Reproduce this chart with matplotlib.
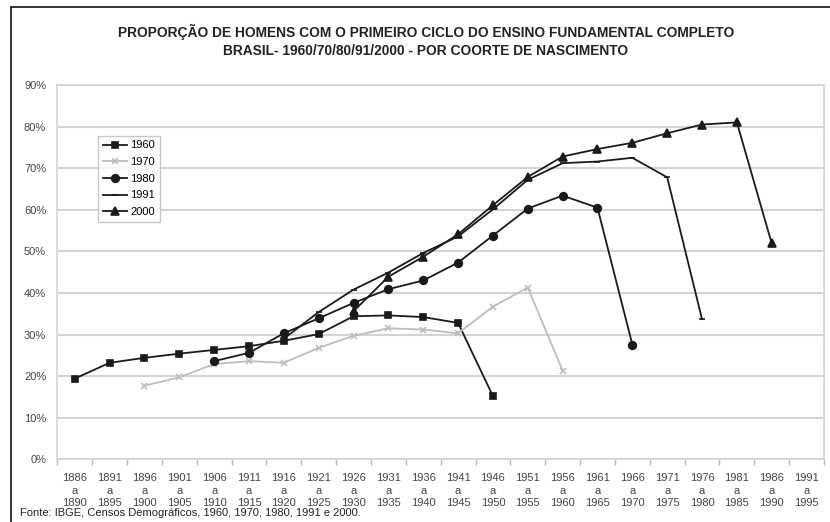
import matplotlib
matplotlib.use("Agg")
import matplotlib.pyplot as plt
from matplotlib.patches import Rectangle

plt.rcParams['font.family'] = ['Liberation Sans', 'DejaVu Sans']

coortes_ini = ['1886', '1891', '1896', '1901', '1906', '1911', '1916', '1921', '1926', '1931', '1936',
               '1941', '1946', '1951', '1956', '1961', '1966', '1971', '1976', '1981', '1986', '1991']
coortes_fim = ['1890', '1895', '1900', '1905', '1910', '1915', '1920', '1925', '1930', '1935', '1940',
               '1945', '1950', '1955', '1960', '1965', '1970', '1975', '1980', '1985', '1990', '1995']

# valores em %, primeiro indice = primeira coorte de cada censo
censo_1960 = [19.4, 23.2, 24.4, 25.4, 26.3, 27.2, 28.5, 30.1, 34.4, 34.6, 34.2, 32.8, 15.2]
inicio_1960 = 0
censo_1970 = [17.7, 19.7, 22.9, 23.6, 23.2, 26.8, 29.7, 31.5, 31.2, 30.3, 36.7, 41.3, 21.3]
inicio_1970 = 2
censo_1980 = [23.6, 25.6, 30.3, 33.9, 37.6, 40.9, 43.0, 47.3, 53.8, 60.3, 63.4, 60.5, 27.6]
inicio_1980 = 4
censo_1991 = [29.0, 35.4, 40.8, 44.9, 49.6, 53.6, 60.1, 67.2, 71.2, 71.6, 72.5, 67.8, 33.7]
inicio_1991 = 6
censo_2000 = [35.6, 43.9, 48.7, 54.1, 61.1, 67.9, 72.8, 74.6, 76.1, 78.4, 80.5, 81.0, 51.9]
inicio_2000 = 8

series = [
    ('1960', censo_1960, inicio_1960, '#1a1a1a', 's', 5),
    ('1970', censo_1970, inicio_1970, '#bdbdbd', 'x', 5),
    ('1980', censo_1980, inicio_1980, '#1a1a1a', 'o', 5.5),
    ('1991', censo_1991, inicio_1991, '#1a1a1a', '_', 4),
    ('2000', censo_2000, inicio_2000, '#1a1a1a', '^', 5.5),
]

fig = plt.figure(figsize=(8.3, 5.22), dpi=100)
ax = fig.add_axes([57.3 / 830, 1 - 459.3 / 522, (824 - 57.3) / 830, (459.3 - 85) / 522])

for nome, vals, ini, cor, mk, ms in series:
    xs = list(range(ini, ini + len(vals)))
    ax.plot(xs, vals, color=cor, marker=mk, markersize=ms, linewidth=1.3,
            markeredgewidth=1.2, label=nome, zorder=3)

ax.set_xlim(-0.5, len(coortes_ini) - 0.5)
ax.set_ylim(0, 90)
ax.set_yticks(range(0, 91, 10))
ax.set_yticklabels([f'{v}%' for v in range(0, 91, 10)], fontsize=8, color='#444444')
ax.yaxis.grid(True, color='#d4d4d4', linewidth=1.5, zorder=0)
ax.tick_params(axis='y', length=0, pad=8)

ax.set_xticks([i - 0.5 for i in range(len(coortes_ini) + 1)])
ax.set_xticklabels([])
ax.set_xticks(range(len(coortes_ini)), minor=True)
ax.set_xticklabels([f'{a}\na\n{b}' for a, b in zip(coortes_ini, coortes_fim)], minor=True,
                   fontsize=8, color='#444444', linespacing=1.3)
ax.tick_params(axis='x', which='major', length=4, color='#bbbbbb', width=1)
ax.tick_params(axis='x', which='minor', length=0, pad=10)

for s in ax.spines.values():
    s.set_color('#d4d4d4')
    s.set_linewidth(1.2)

leg = ax.legend(loc='upper left', bbox_to_anchor=((98 - 57.3) / 766.7, (459.3 - 135.5) / 374.3),
                fontsize=8, frameon=True, fancybox=False, edgecolor='#bbbbbb',
                handlelength=2.2, handletextpad=0.25, labelspacing=0.6,
                borderpad=0.45, borderaxespad=0)
leg.get_frame().set_linewidth(1)

fig.text(426 / 830, 1 - 32 / 522, 'PROPORÇÃO DE HOMENS COM O PRIMEIRO CICLO DO ENSINO FUNDAMENTAL COMPLETO',
         ha='center', va='center', fontsize=9.9, fontweight='bold', color='#222222')
fig.text(426 / 830, 1 - 51 / 522, 'BRASIL- 1960/70/80/91/2000 - POR COORTE DE NASCIMENTO',
         ha='center', va='center', fontsize=9.9, fontweight='bold', color='#222222')
fig.text(20 / 830, 1 - 513 / 522, 'Fonte: IBGE, Censos Demográficos, 1960, 1970, 1980, 1991 e 2000.',
         ha='left', va='center', fontsize=8, color='#222222')

fig.patches.append(Rectangle((11 / 830, -0.05), 1.1, 1 - 7 / 522 + 0.05, transform=fig.transFigure,
                             fill=False, edgecolor='#222222', linewidth=1.3))

fig.savefig('out.png', dpi=100)
